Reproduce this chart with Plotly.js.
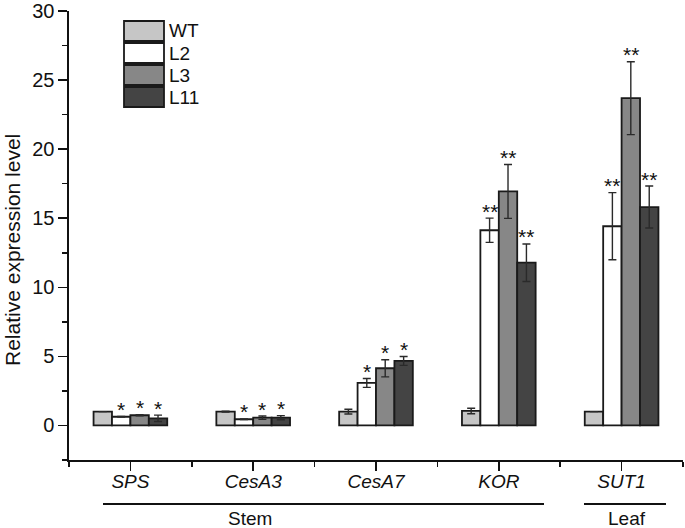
<!DOCTYPE html>
<html>
<head>
<meta charset="utf-8">
<script src="https://cdn.plot.ly/plotly-3.0.1.min.js"></script>
<style>html,body{margin:0;padding:0;background:#fff;}#chart{width:685px;height:528px;}</style>
</head>
<body>
<div id="chart"></div>
<script>
// ---- data ----
const genes = ["SPS", "CesA3", "CesA7", "KOR", "SUT1"];
const seriesNames = ["WT", "L2", "L3", "L11"];
const wtValues  = [1.0, 1.0, 1.0, 1.05, 1.0];
const wtErrors  = [0.0, 0.03, 0.17, 0.2, 0.0];
const l2Values  = [0.63, 0.45, 3.08, 14.13, 14.42];
const l2Errors  = [0.03, 0.03, 0.32, 0.88, 2.43];
const l3Values  = [0.74, 0.56, 4.14, 16.94, 23.69];
const l3Errors  = [0.04, 0.12, 0.62, 1.95, 2.64];
const l11Values = [0.52, 0.56, 4.67, 11.78, 15.81];
const l11Errors = [0.23, 0.15, 0.32, 1.36, 1.52];
const wtSig  = ["", "", "", "", ""];
const l2Sig  = ["*", "*", "*", "**", "**"];
const l3Sig  = ["*", "*", "*", "**", "**"];
const l11Sig = ["*", "*", "*", "**", "**"];
const tissueGroups = ["Stem", "Leaf"];
const yTickVals = [0, 5, 10, 15, 20, 25, 30];
const yTitle = "Relative expression level";

// ---- styling ----
const FONT = "Arial, 'Liberation Sans', sans-serif";
const fills = ["#c6c6c6", "#ffffff", "#878787", "#444444"];
const W = 685, H = 528;
const M = {l: 69, r: 2, t: 11, b: 68};
const plotW = W - M.l - M.r, plotH = H - M.t - M.b;
const pxX = x => (x - M.l) / plotW;
const pxY = y => (H - M.b - y) / plotH;

const vals = [wtValues, l2Values, l3Values, l11Values];
const errs = [wtErrors, l2Errors, l3Errors, l11Errors];
const sigs = [wtSig, l2Sig, l3Sig, l11Sig];
const xIdx = genes.map((g, i) => i);

const traces = seriesNames.map((name, s) => ({
  type: "bar",
  name: name,
  x: xIdx,
  y: vals[s],
  marker: {color: fills[s], line: {color: "#1a1a1a", width: 1.8}},
  error_y: {type: "data", array: errs[s], visible: true, color: "#2a2a2a", thickness: 1.4, width: 4},
  showlegend: false,
  hoverinfo: "skip"
}));

const groupWidth = 0.6, barW = groupWidth / seriesNames.length;
const annotations = [];
sigs.forEach((arr, s) => {
  arr.forEach((txt, i) => {
    if (!txt) return;
    annotations.push({
      x: i + (s - (seriesNames.length - 1) / 2) * barW,
      y: vals[s][i] + errs[s][i],
      xref: "x", yref: "y",
      text: txt, showarrow: false,
      yanchor: "middle", yshift: 7,
      font: {family: FONT, size: 21, color: "#111"}
    });
  });
});

// custom legend
const shapes = [];
seriesNames.forEach((name, s) => {
  const top = 21 + s * 22;
  shapes.push({type: "rect", xref: "paper", yref: "paper",
    x0: pxX(124), x1: pxX(164), y0: pxY(top + 20), y1: pxY(top),
    fillcolor: fills[s], line: {color: "#1a1a1a", width: 1.8}});
  annotations.push({xref: "paper", yref: "paper", x: pxX(167), y: pxY(top + 10),
    xanchor: "left", yanchor: "middle", text: name, showarrow: false,
    font: {family: FONT, size: 19, color: "#111"}});
});

// y-axis title (placed as in the reference, slightly below plot centre)
annotations.push({xref: "paper", yref: "paper", x: pxX(12), y: pxY(250), text: yTitle, textangle: -90,
  showarrow: false, xanchor: "center", yanchor: "middle", font: {family: FONT, size: 21, color: "#111"}});

// tissue group lines & labels
shapes.push({type: "line", xref: "paper", yref: "paper", x0: pxX(103), x1: pxX(544), y0: pxY(504), y1: pxY(504), line: {color: "#111", width: 2}});
shapes.push({type: "line", xref: "paper", yref: "paper", x0: pxX(584), x1: pxX(666), y0: pxY(504), y1: pxY(504), line: {color: "#111", width: 2}});
annotations.push({xref: "paper", yref: "paper", x: pxX(250), y: pxY(518), text: tissueGroups[0], showarrow: false,
  xanchor: "center", yanchor: "middle", font: {family: FONT, size: 19, color: "#111"}});
annotations.push({xref: "paper", yref: "paper", x: pxX(627), y: pxY(518), text: tissueGroups[1], showarrow: false,
  xanchor: "center", yanchor: "middle", font: {family: FONT, size: 19, color: "#111"}});

const layout = {
  width: W, height: H,
  margin: M,
  paper_bgcolor: "#fff", plot_bgcolor: "#fff",
  barmode: "group", bargap: 0.4, bargroupgap: 0,
  showlegend: false,
  font: {family: FONT, color: "#111"},
  xaxis: {
    range: [-0.5, 4.5], tickmode: "array", tickvals: xIdx, ticktext: genes,
    tickfont: {family: FONT, size: 19, style: "italic", color: "#111"},
    ticks: "outside", ticklen: 9, tickwidth: 1.6, tickcolor: "#111",
    ticklabelstandoff: -5,
    minor: {tick0: 0.5, dtick: 1, ticks: "outside", ticklen: 5, tickwidth: 1.6, tickcolor: "#111"},
    showline: true, linecolor: "#111", linewidth: 1.6,
    showgrid: false, zeroline: false, fixedrange: true
  },
  yaxis: {
    range: [-2.5, 30], tickmode: "array", tickvals: yTickVals,
    tickfont: {family: FONT, size: 20, color: "#111"},
    ticklabeloverflow: "allow",
    ticks: "outside", ticklen: 9, tickwidth: 1.6, tickcolor: "#111",
    minor: {tick0: 0, dtick: 2.5, ticks: "outside", ticklen: 5, tickwidth: 1.6, tickcolor: "#111"},
    showline: true, linecolor: "#111", linewidth: 1.6,
    showgrid: false, zeroline: false, fixedrange: true
  },
  shapes: shapes,
  annotations: annotations
};

Plotly.newPlot("chart", traces, layout, {displayModeBar: false, staticPlot: true});
</script>
</body>
</html>
